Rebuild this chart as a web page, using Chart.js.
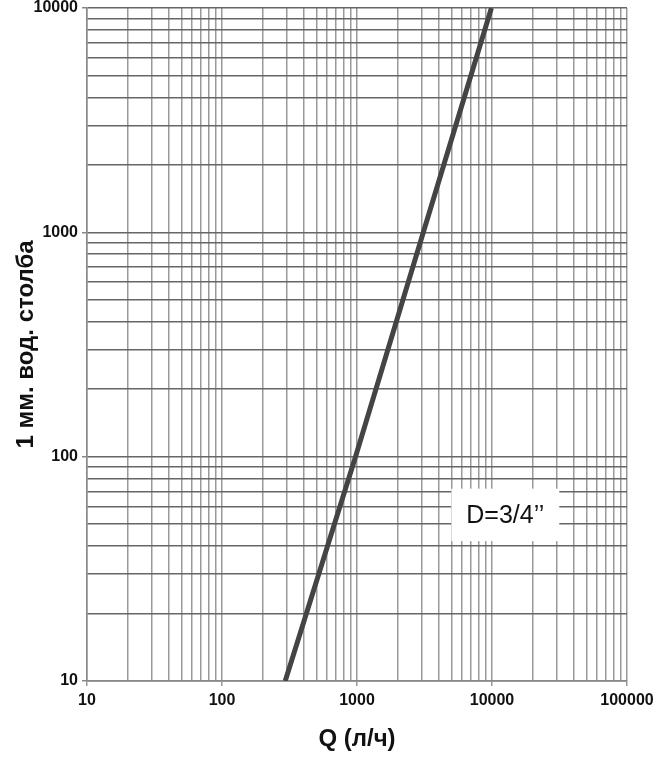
<!DOCTYPE html>
<html>
<head>
<meta charset="utf-8">
<script src="https://cdn.jsdelivr.net/npm/chart.js@4"></script>
<style>
  body { margin: 0; background: #fff; }
  #wrap { width: 664px; height: 758px; }
</style>
</head>
<body>
<div id="wrap"><canvas id="chart"></canvas></div>
<script>
// flow Q (l/h) vs pressure loss (mm water column), D=3/4"
var flowQ = [294, 975, 3100, 9900];
var headLoss = [10, 100, 1000, 10000];

var xTicks = [];
var yTicks = [];
[10, 100, 1000, 10000].forEach(function (d) {
  for (var k = 1; k < 10; k++) xTicks.push(d * k);
});
xTicks.push(100000);
[10, 100, 1000].forEach(function (d) {
  for (var k = 1; k < 10; k++) yTicks.push(d * k);
});
yTicks.push(10000);

var seriesLabel = 'D=3/4\u2019\u2019';
var xTitle = 'Q (л/ч)';
var yTitle = '1 мм. вод. столба';

function isPow10(v) {
  var l = Math.log10(v);
  return Math.abs(l - Math.round(l)) < 1e-9;
}

var points = flowQ.map(function (q, i) { return { x: q, y: headLoss[i] }; });

// white box with the pipe size, placed in data coords
var labelBox = {
  id: 'labelBox',
  afterDatasetsDraw: function (chart) {
    var x = chart.scales.x, y = chart.scales.y, ctx = chart.ctx;
    var x0 = x.getPixelForValue(5000), x1 = x.getPixelForValue(31500);
    var y0 = y.getPixelForValue(72), y1 = y.getPixelForValue(42);
    ctx.save();
    ctx.fillStyle = '#fff';
    ctx.fillRect(x0, y0, x1 - x0, y1 - y0);
    ctx.fillStyle = '#111';
    ctx.font = '25px "Liberation Sans", Arial, sans-serif';
    ctx.textAlign = 'center';
    ctx.textBaseline = 'middle';
    ctx.fillText(seriesLabel, (x0 + x1) / 2, (y0 + y1) / 2 + 1);
    ctx.restore();
  }
};

var tickFont = { family: '"Liberation Sans", Arial, sans-serif', size: 16, weight: 'bold' };
var titleFont = { family: '"Liberation Sans", Arial, sans-serif', size: 24, weight: 'bold' };

new Chart(document.getElementById('chart'), {
  type: 'line',
  data: {
    datasets: [{
      label: seriesLabel,
      data: points,
      borderColor: '#444',
      borderWidth: 5,
      pointRadius: 0,
      fill: false,
      tension: 0
    }]
  },
  options: {
    responsive: true,
    maintainAspectRatio: false,
    animation: false,
    layout: { padding: { left: 12, right: 37, top: 8, bottom: 0 } },
    plugins: { legend: { display: false }, tooltip: { enabled: false } },
    scales: {
      x: {
        type: 'logarithmic',
        min: 10, max: 100000,
        afterBuildTicks: function (s) { s.ticks = xTicks.map(function (v) { return { value: v }; }); },
        afterFit: function (s) { s.height = 77; },
        border: { color: '#888', width: 1.5 },
        grid: {
          color: '#999', lineWidth: 1.5, tickLength: 5,
          tickColor: function (c) { return isPow10(c.tick.value) ? '#999' : 'rgba(0,0,0,0)'; }
        },
        ticks: {
          autoSkip: false, maxRotation: 0, color: '#111', font: tickFont, padding: 5,
          callback: function (v) { return isPow10(v) ? String(v) : ''; }
        },
        title: { display: true, text: xTitle, color: '#111', font: titleFont, padding: { top: 8 } }
      },
      y: {
        type: 'logarithmic',
        min: 10, max: 10000,
        afterBuildTicks: function (s) { s.ticks = yTicks.map(function (v) { return { value: v }; }); },
        afterFit: function (s) { s.width = 75; s.paddingTop = 0; s.paddingBottom = 0; },
        border: { color: '#888', width: 1.5 },
        grid: {
          color: '#666', lineWidth: 1.5, tickLength: 5,
          tickColor: function (c) { return isPow10(c.tick.value) ? '#888' : 'rgba(0,0,0,0)'; }
        },
        ticks: {
          autoSkip: false, color: '#111', font: tickFont, padding: 4,
          callback: function (v) { return isPow10(v) ? String(v) : ''; }
        },
        title: { display: true, text: yTitle, color: '#111', font: titleFont, padding: 0 }
      }
    }
  },
  plugins: [labelBox]
});
</script>
</body>
</html>
